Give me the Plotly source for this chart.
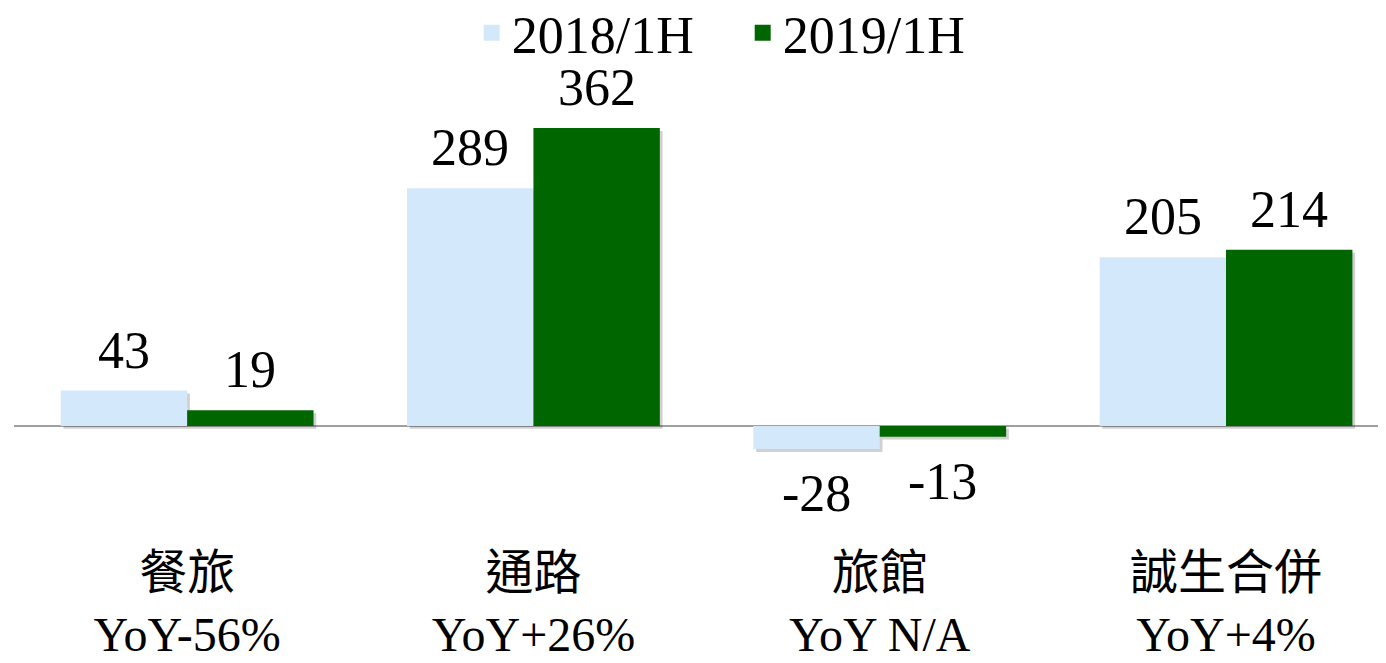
import plotly.graph_objects as go

categories = ["餐旅", "通路", "旅館", "誠生合併"]
yoy_labels = ["YoY-56%", "YoY+26%", "YoY N/A", "YoY+4%"]
series_names = ["2018/1H", "2019/1H"]
values_2018 = [43, 289, -28, 205]
values_2019 = [19, 362, -13, 214]

colors = ["#D3E8FB", "#006600"]
serif = "Liberation Serif, Times New Roman, Noto Sans CJK TC, serif"

x_idx = list(range(len(categories)))
ticktext = [f"{c}<br>{y}" for c, y in zip(categories, yoy_labels)]

bar_w = 0.365
shadow_dx = 0.008
shadow_dy = 3.5

fig = go.Figure()
for si, (name, vals, col) in enumerate([(series_names[0], values_2018, colors[0]),
                                        (series_names[1], values_2019, colors[1])]):
    off = -bar_w if si == 0 else 0.0
    # soft drop shadow
    fig.add_trace(go.Bar(x=x_idx, y=vals, base=-shadow_dy, width=bar_w, offset=off + shadow_dx,
                         marker=dict(color="rgba(0,0,0,0.18)", line=dict(width=0)),
                         showlegend=False, hoverinfo="skip", cliponaxis=False))
    fig.add_trace(go.Bar(x=x_idx, y=vals, name=name, width=bar_w, offset=off,
                         marker=dict(color=col, line=dict(width=0)),
                         showlegend=False, cliponaxis=False))
    # legend proxy
    fig.add_trace(go.Scatter(x=[None], y=[None], mode="markers", name=name,
                             marker=dict(symbol="square", size=24, color=col), showlegend=True))

annotations = []
for si, vals in enumerate([values_2018, values_2019]):
    off = -bar_w / 2 if si == 0 else bar_w / 2
    for i, v in enumerate(vals):
        if v >= 0:
            annotations.append(dict(x=i + off, y=v, text=str(v), showarrow=False,
                                     yanchor="bottom", yshift=10, xref="x", yref="y",
                                     font=dict(family=serif, size=52, color="black")))
        else:
            annotations.append(dict(x=i + off, y=v, text=str(v), showarrow=False,
                                     yanchor="top", yshift=-14, xref="x", yref="y",
                                     font=dict(family=serif, size=52, color="black")))

fig.update_layout(
    width=1378, height=655,
    margin=dict(l=6, r=0, t=52, b=133, autoexpand=False),
    paper_bgcolor="white", plot_bgcolor="white",
    barmode="overlay",
    font=dict(family=serif, color="black"),
    legend=dict(orientation="h", x=0.3336, xanchor="left", y=1.0576, yanchor="middle",
                yref="paper", entrywidth=226, entrywidthmode="pixels",
                font=dict(family=serif, size=52, color="black"),
                itemsizing="trace", bgcolor="rgba(0,0,0,0)"),
    annotations=annotations,
    xaxis=dict(tickmode="array", tickvals=x_idx, ticktext=ticktext, range=[-0.5, 3.462],
               showgrid=False, zeroline=False, showline=False, ticks="", automargin=False,
               ticklabelstandoff=10,
               tickfont=dict(family=serif, size=48, color="black")),
    yaxis=dict(range=[-126.4, 444.7], showgrid=False, showticklabels=False, ticks="",
               automargin=False,
               zeroline=True, zerolinecolor="#A0A0A0", zerolinewidth=1.5, showline=False),
)

fig.write_html("out.html")
